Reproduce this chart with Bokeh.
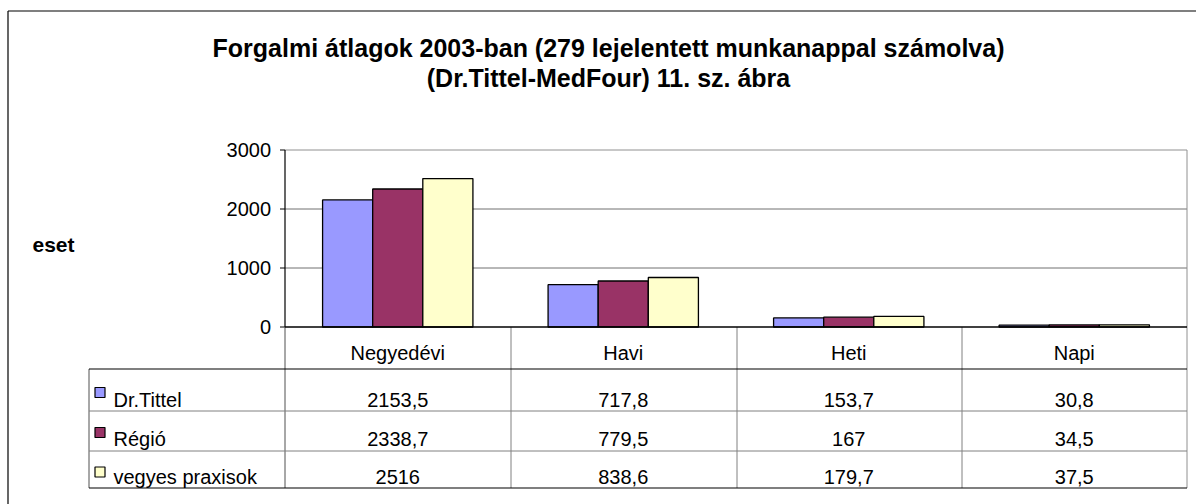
from bokeh.plotting import figure
from bokeh.models import Range1d, ColumnDataSource
from bokeh.transform import dodge
from bokeh.core.properties import value
from bokeh.embed import file_html
from bokeh.resources import INLINE

# ---------------- data ----------------
categories = ["Negyedévi", "Havi", "Heti", "Napi"]
series_names = ["Dr.Tittel", "Régió", "vegyes praxisok"]
dr_tittel = [2153.5, 717.8, 153.7, 30.8]
regio = [2338.7, 779.5, 167, 34.5]
vegyes = [2516, 838.6, 179.7, 37.5]
y_ticks = [0, 1000, 2000, 3000]
y_max = 3000
title_lines = ["Forgalmi átlagok 2003-ban (279 lejelentett munkanappal számolva)",
               "(Dr.Tittel-MedFour) 11. sz. ábra"]
y_label = "eset"
colors = ["#9999FF", "#993366", "#FFFFCC"]

FONT = "Liberation Sans"

# ---------------- layout (canvas px) ----------------
W, H = 1196, 504
F_LEFT, F_RIGHT = 284.5, 1186.5       # plot area horizontal extent
F_TOP, F_BOTTOM = 149.5, 326.5        # plot area vertical extent (y_max .. 0)
colw = (F_RIGHT - F_LEFT) / len(categories)
ppu = (F_BOTTOM - F_TOP) / y_max      # px per value unit

p = figure(width=W, height=H, x_range=Range1d(0, W), y_range=Range1d(H, 0),
           output_backend="svg", toolbar_location=None, min_border=0,
           x_axis_location=None, y_axis_location=None)
p.grid.visible = False
p.outline_line_color = None
p.background_fill_color = "white"
p.border_fill_color = "white"

# data scales: categories and values mapped onto the plot area
p.extra_x_ranges = {"cx": Range1d(-F_LEFT / colw, (W - F_LEFT) / colw)}
p.extra_y_ranges = {"vy": Range1d((F_BOTTOM - H) / ppu, F_BOTTOM / ppu)}

src = ColumnDataSource(dict(pos=[i + 0.5 for i in range(len(categories))], cat=categories,
                            s0=dr_tittel, s1=regio, s2=vegyes))

# grid lines (values) and frame top
p.segment(x0=F_LEFT, x1=F_RIGHT, y0=y_ticks[1:-1], y1=y_ticks[1:-1],
          y_range_name="vy", line_color="#707070", line_width=1)
p.segment(x0=F_LEFT, x1=F_RIGHT, y0=y_max, y1=y_max,
          y_range_name="vy", line_color="#909090", line_width=1)

# bars
bw = 1 / 4.5
for i, col in enumerate(["s0", "s1", "s2"]):
    p.vbar(x=dodge("pos", (i - 1) * bw), top=col, bottom=0, width=bw, source=src,
           x_range_name="cx", y_range_name="vy",
           fill_color=colors[i], line_color="black", line_width=1.3)

# y axis: line, ticks, labels
p.segment(x0=F_LEFT, x1=F_LEFT, y0=0, y1=y_max, y_range_name="vy",
          line_color="black", line_width=1.2)
p.segment(x0=F_LEFT - 5, x1=F_LEFT, y0=y_ticks, y1=y_ticks, y_range_name="vy",
          line_color="black", line_width=1)
p.text(x=F_LEFT - 14, y=y_ticks, text=[str(t) for t in y_ticks], y_range_name="vy",
       text_font=value(FONT), text_font_size="20px", text_align="right",
       text_baseline="middle", text_color="black")

# data table lines
T_LEFT = 88.5
row_edges = [368.5, 410.5, 450.5, 487.5]
inner_x = [round(F_LEFT + k * colw) + 0.5 for k in range(1, len(categories))]
p.segment(x0=inner_x, x1=inner_x, y0=F_BOTTOM, y1=row_edges[-1], line_color="#808080", line_width=1)
p.segment(x0=F_RIGHT, x1=F_RIGHT, y0=F_TOP, y1=row_edges[-1], line_color="#909090", line_width=1)
p.segment(x0=F_LEFT, x1=F_LEFT, y0=F_BOTTOM, y1=row_edges[-1], line_color="#505050", line_width=1)
p.segment(x0=T_LEFT, x1=T_LEFT, y0=row_edges[0], y1=row_edges[-1], line_color="#505050", line_width=1)
p.segment(x0=T_LEFT, x1=F_RIGHT, y0=row_edges[1:3], y1=row_edges[1:3], line_color="#808080", line_width=1)
p.segment(x0=T_LEFT, x1=F_RIGHT, y0=[row_edges[0], row_edges[3]], y1=[row_edges[0], row_edges[3]],
          line_color="black", line_width=1.2)
# x axis line
p.segment(x0=F_LEFT, x1=F_RIGHT, y0=0, y1=0, y_range_name="vy", line_color="black", line_width=1.3)

# category labels
p.text(x="pos", y=352, text="cat", source=src, x_range_name="cx",
       text_font=value(FONT), text_font_size="20px", text_align="center",
       text_baseline="alphabetic", text_color="black")

def fmt(v):
    return f"{v:g}".replace(".", ",")

row_baselines = [399, 438.5, 476.5]
key_centers = [392, 432, 471.5]
for r, (name, vals) in enumerate(zip(series_names, [dr_tittel, regio, vegyes])):
    yc = key_centers[r]
    p.quad(left=94.5, right=104.5, top=yc - 5, bottom=yc + 5,
           fill_color=colors[r], line_color="black", line_width=1.2)
    p.text(x=[113], y=[row_baselines[r]], text=[name], text_font=value(FONT),
           text_font_size="20px", text_align="left", text_baseline="alphabetic",
           text_color="black")
    vs = ColumnDataSource(dict(pos=src.data["pos"], txt=[fmt(v) for v in vals]))
    p.text(x="pos", y=row_baselines[r], text="txt", source=vs, x_range_name="cx",
           text_font=value(FONT), text_font_size="20px", text_align="center",
           text_baseline="alphabetic", text_color="black")

# titles and axis title
p.text(x=[608, 608], y=[47.5, 77.5], text=title_lines, text_font=value(FONT),
       text_font_size="25px", text_font_style="bold", text_align="center",
       text_baseline="alphabetic", text_color="black")
p.text(x=[32], y=[244], text=[y_label], text_font=value(FONT), text_font_size="21px",
       text_font_style="bold", text_align="left", text_baseline="alphabetic",
       text_color="black")

# outer chart border (left and top edges visible)
p.segment(x0=[7.5, 7.5], x1=[W, 7.5], y0=[10.5, 10.5], y1=[10.5, H], line_color="black", line_width=1.2)

open("out.html", "w").write(file_html(p, INLINE))
